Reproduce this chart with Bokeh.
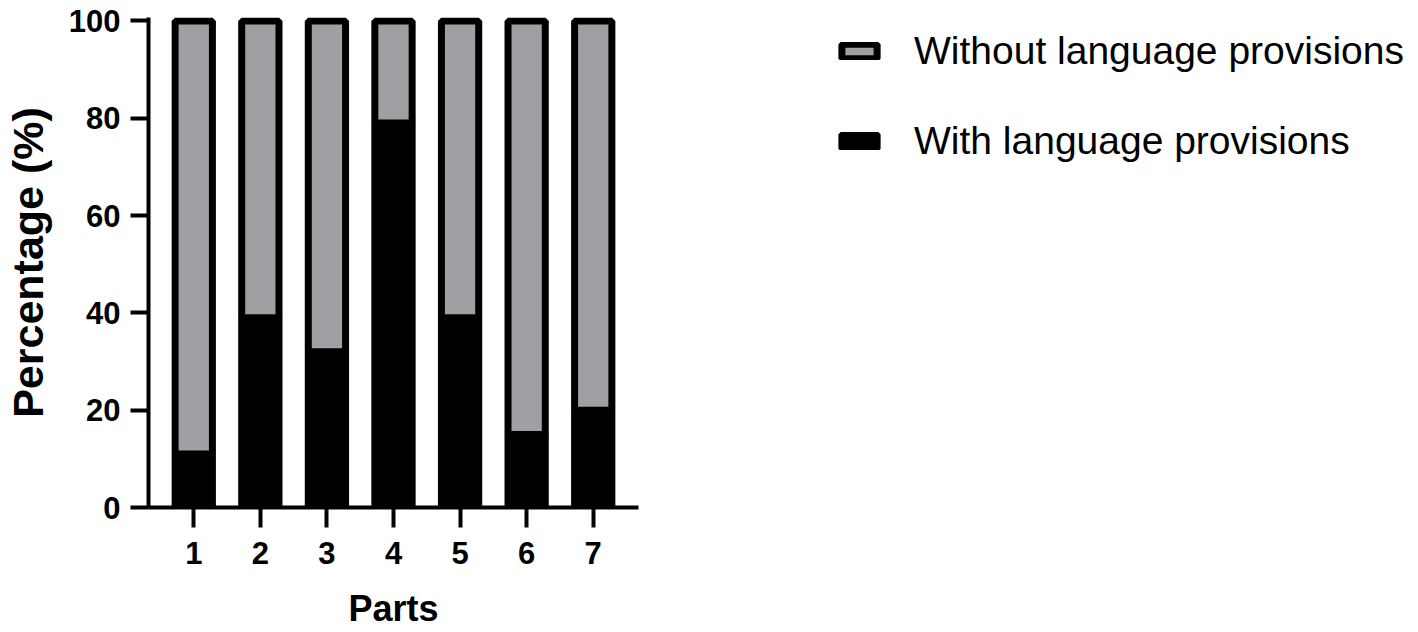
from bokeh.plotting import figure
from bokeh.models import ColumnDataSource, Range1d, FixedTicker, Legend, LegendItem
from bokeh.embed import file_html
from bokeh.resources import INLINE

parts = [1, 2, 3, 4, 5, 6, 7]
with_pct = [11, 39, 32, 79, 39, 15, 20]
without_pct = [100 - v for v in with_pct]
y_ticks = [0, 20, 40, 60, 80, 100]

GRAY = "#a0a0a4"
FONT = "Liberation Sans"

src = ColumnDataSource(dict(x=parts, with_pct=with_pct, without_pct=without_pct))

p = figure(frame_width=490, frame_height=490, output_backend="svg", toolbar_location=None,
           x_range=Range1d(0.32, 7.68), y_range=Range1d(0, 100.7),
           min_border_left=147, min_border_right=781, min_border_top=17, min_border_bottom=120)
p.outline_line_color = None
p.grid.visible = False
p.background_fill_color = "white"

rs = p.vbar_stack(["with_pct", "without_pct"], x="x", width=0.56, source=src,
                  fill_color=["black", GRAY], line_color="black", line_width=7)

for ax in (p.xaxis[0], p.yaxis[0]):
    ax.axis_line_width = 4
    ax.axis_line_color = "black"
    ax.major_tick_line_width = 4
    ax.major_tick_line_color = "black"
    ax.major_tick_in = 0
    ax.minor_tick_line_color = None
    ax.major_label_text_font = FONT
    ax.major_label_text_font_style = "bold"
    ax.major_label_text_font_size = "31px"
    ax.major_label_text_color = "black"
    ax.axis_label_text_font = FONT
    ax.axis_label_text_font_style = "bold"
    ax.axis_label_text_color = "black"

p.xaxis.ticker = FixedTicker(ticks=parts)
p.xaxis.major_tick_out = 20
p.xaxis.major_label_standoff = 14
p.xaxis.axis_label = "Parts"
p.xaxis.axis_label_text_font_size = "36px"
p.xaxis.axis_label_standoff = 21

p.yaxis.ticker = FixedTicker(ticks=y_ticks)
p.yaxis.major_tick_out = 18
p.yaxis.major_label_standoff = 10
p.yaxis.axis_label = "Percentage (%)"
p.yaxis.axis_label_text_font_size = "43px"
p.yaxis.axis_label_standoff = 14

legend = Legend(items=[LegendItem(label="Without language provisions", renderers=[rs[1]]),
                       LegendItem(label="With language provisions", renderers=[rs[0]])],
                location=(199, 344), orientation="vertical")
legend.glyph_width = 44
legend.glyph_height = 18
legend.label_height = 18
legend.label_standoff = 33
legend.spacing = 46
legend.padding = 0
legend.margin = 0
legend.label_text_font = FONT
legend.label_text_font_size = "39px"
legend.label_text_color = "black"
legend.background_fill_alpha = 0
legend.border_line_alpha = 0
p.add_layout(legend, "right")

open("out.html", "w").write(file_html(p, INLINE))
